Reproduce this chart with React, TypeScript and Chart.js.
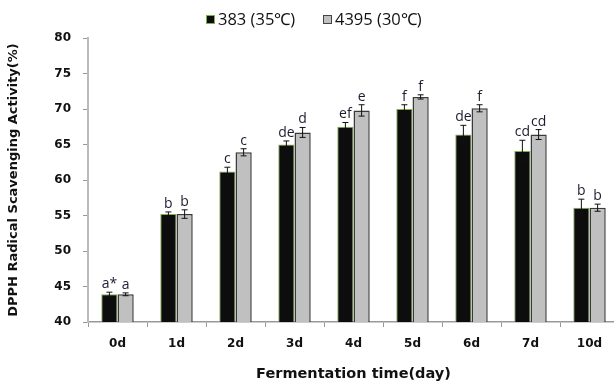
import React, { useEffect, useRef } from "react";
import { Chart, registerables } from "chart.js";

Chart.register(...registerables);

const categories = ["0d", "1d", "2d", "3d", "4d", "5d", "6d", "7d", "10d"];
const series1Label = "383 (35℃)";
const series2Label = "4395 (30℃)";
const series1 = [43.9, 55.2, 61.2, 65.0, 67.5, 70.0, 66.4, 64.1, 56.1];
const series2 = [43.9, 55.2, 63.9, 66.7, 69.8, 71.7, 70.1, 66.4, 56.1];
const err1 = [0.3, 0.3, 0.6, 0.5, 0.6, 0.6, 1.3, 1.5, 1.2];
const err2 = [0.2, 0.6, 0.5, 0.7, 0.8, 0.3, 0.5, 0.7, 0.5];
const letters1 = ["a*", "b", "c", "de", "ef", "f", "de", "cd", "b"];
const letters2 = ["a", "b", "c", "d", "e", "f", "f", "cd", "b"];
const yTicks = [40, 45, 50, 55, 60, 65, 70, 75, 80];

const errorPlugin = {
  id: "errLetters",
  afterDatasetsDraw(chart: any) {
    const ctx = chart.ctx;
    const ys = chart.scales.y;
    const errs = [err1, err2];
    const lets = [letters1, letters2];
    ctx.save();
    [0, 1].forEach((di) => {
      const meta = chart.getDatasetMeta(di);
      const data = chart.data.datasets[di].data as number[];
      meta.data.forEach((bar: any, i: number) => {
        const v = data[i];
        const e = errs[di][i];
        const yt = ys.getPixelForValue(v + e);
        const yb = ys.getPixelForValue(v - e);
        const x = bar.x;
        ctx.strokeStyle = "#111";
        ctx.lineWidth = 1;
        ctx.beginPath();
        ctx.moveTo(x, yt);
        ctx.lineTo(x, yb);
        ctx.moveTo(x - 3, yt);
        ctx.lineTo(x + 3, yt);
        ctx.moveTo(x - 3, yb);
        ctx.lineTo(x + 3, yb);
        ctx.stroke();
        ctx.fillStyle = "#1c1c30";
        ctx.font = "14px 'Open Sans', sans-serif";
        ctx.textAlign = "center";
        ctx.textBaseline = "alphabetic";
        ctx.fillText(lets[di][i], x, yt - 4);
      });
    });
    // legend
    ctx.font = "16.5px 'Open Sans', sans-serif";
    ctx.textBaseline = "middle";
    ctx.textAlign = "left";
    ctx.fillStyle = "#0d0d0d";
    ctx.fillRect(206, 15, 9, 9);
    ctx.strokeStyle = "#7fb24a";
    ctx.strokeRect(206.5, 15.5, 8, 8);
    ctx.fillStyle = "#111";
    ctx.fillText(series1Label, 218, 20);
    ctx.fillStyle = "#c0c0c0";
    ctx.fillRect(323, 15, 9, 9);
    ctx.strokeStyle = "#444";
    ctx.strokeRect(323.5, 15.5, 8, 8);
    ctx.fillStyle = "#111";
    ctx.fillText(series2Label, 335, 20);
    ctx.restore();
  },
};

export default function App() {
  const ref = useRef<HTMLCanvasElement>(null);
  useEffect(() => {
    document.body.style.margin = "0";
    const chart = new Chart(ref.current!, {
      type: "bar",
      data: {
        labels: categories,
        datasets: [
          {
            label: series1Label,
            data: series1,
            backgroundColor: "#0d0d0d",
            borderColor: "#7fb24a",
            borderWidth: 1,
            categoryPercentage: 0.55,
            barPercentage: 1,
          },
          {
            label: series2Label,
            data: series2,
            backgroundColor: "#c0c0c0",
            borderColor: "#3a3a3a",
            borderWidth: 1.5,
            categoryPercentage: 0.55,
            barPercentage: 1,
          },
        ],
      },
      options: {
        animation: false,
        responsive: false,
        layout: { padding: { top: 38, right: 1, left: 0, bottom: 0 } },
        plugins: { legend: { display: false }, tooltip: { enabled: false } },
        scales: {
          x: {
            grid: {
              display: true,
              drawOnChartArea: false,
              drawTicks: true,
              tickLength: 5,
              color: "#999",
              offset: true,
            },
            border: { display: true, color: "#999", width: 1.5 },
            ticks: {
              color: "#111",
              font: { family: "'DejaVu Sans'", weight: "bold", size: 12 },
              padding: 10,
            },
            title: {
              display: true,
              text: "Fermentation time(day)",
              color: "#111",
              font: { family: "'DejaVu Sans'", weight: "bold", size: 14.5 },
              padding: { top: 8, bottom: 0 },
            },
            afterFit: (s: any) => {
              s.height = 61;
            },
          },
          y: {
            min: 40,
            max: 80,
            afterBuildTicks: (s: any) => {
              s.ticks = yTicks.map((v) => ({ value: v }));
            },
            grid: {
              display: true,
              drawOnChartArea: false,
              drawTicks: true,
              tickLength: 5,
              color: "#999",
            },
            border: { display: true, color: "#bbb", width: 2 },
            ticks: {
              color: "#111",
              font: { family: "'DejaVu Sans'", weight: "bold", size: 12 },
              padding: 12,
            },
            title: {
              display: true,
              text: "DPPH Radical Scavenging Activity(%)",
              color: "#111",
              font: { family: "'DejaVu Sans'", weight: "bold", size: 13 },
              padding: { top: 6, bottom: 6 },
            },
            afterFit: (s: any) => {
              s.width = 88;
            },
          },
        },
      },
      plugins: [errorPlugin],
    });
    return () => chart.destroy();
  }, []);
  return (
    <div style={{ position: "absolute", left: 0, top: 0, width: 614, height: 383, overflow: "hidden", background: "#fff" }}>
      <canvas ref={ref} width={620} height={383} style={{ display: "block" }} />
    </div>
  );
}
